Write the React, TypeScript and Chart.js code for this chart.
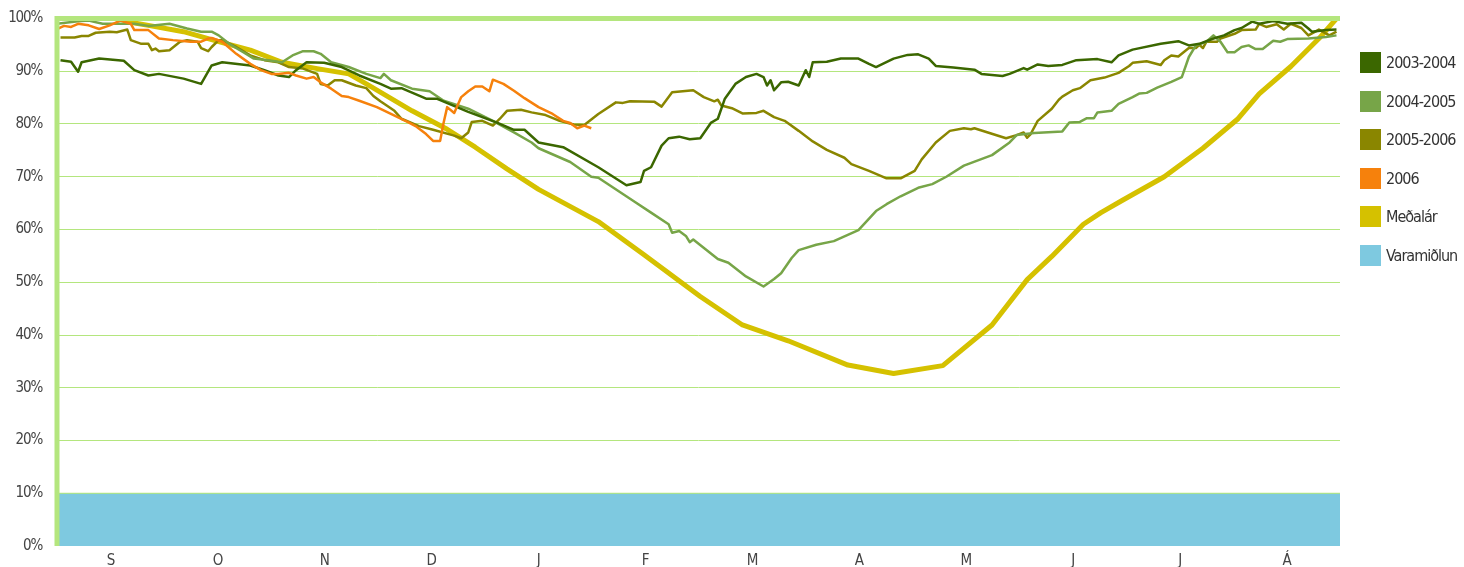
import React, { useEffect, useRef } from "react";
import { Chart, registerables } from "chart.js";

Chart.register(...registerables);

// x = day of the water year (starting 1 September), y = reservoir fill %
const MONTHS = ["S", "O", "N", "D", "J", "F", "M", "A", "M", "J", "J", "Á"];
const YEAR_DAYS = 365;
const Y_TICKS_STEP = 10;

const SERIES_NAMES = ["2003-2004", "2004-2005", "2005-2006", "2006", "Meðalár", "Varamiðlun"];
const SERIES_COLORS = ["#3B6700", "#77A548", "#8A8600", "#F6810C", "#D5C100", "#7EC9E0"];

const S2003: [number, number][] = [
  [1, 92.1], [4, 91.8], [6, 89.9], [7, 91.7], [12, 92.4], [19, 92.0], [22, 90.2], [26, 89.2], [29, 89.5],
  [36, 88.6], [41, 87.6], [44, 91.1], [47, 91.7], [55, 91.1], [59, 90.2], [63, 89.2], [66, 88.9], [68, 90.2],
  [71, 91.7], [76, 91.6], [81, 90.8], [86, 89.2], [92, 87.6], [95, 86.7], [98, 86.8], [105, 84.8], [108, 84.8],
  [117, 82.3], [125, 80.3], [130, 78.9], [133, 78.9], [137, 76.5], [144, 75.6], [154, 71.8], [162, 68.4],
  [166, 69.0], [167, 71.1], [169, 71.8], [172, 75.9], [174, 77.3], [177, 77.6], [180, 77.1], [183, 77.3],
  [186, 80.2], [188, 81.0], [190, 84.8], [193, 87.6], [196, 88.9], [199, 89.5], [201, 88.9], [202, 87.3],
  [203, 88.3], [204, 86.4], [206, 87.9], [208, 88.0], [211, 87.3], [213, 90.2], [214, 88.9], [215, 91.7],
  [219, 91.8], [223, 92.4], [228, 92.4], [231, 91.4], [233, 90.8], [238, 92.4], [242, 93.1], [245, 93.2],
  [248, 92.4], [250, 91.0], [255, 90.7], [261, 90.3], [263, 89.5], [269, 89.1], [271, 89.5], [275, 90.6],
  [276, 90.3], [279, 91.3], [282, 91.0], [286, 91.2], [290, 92.1], [296, 92.3], [300, 91.7], [302, 93.0],
  [306, 94.1], [314, 95.2], [319, 95.7], [322, 94.9], [325, 95.2], [329, 96.2], [332, 96.8], [335, 97.8],
  [337, 98.2], [340, 99.4], [342, 99.0], [346, 99.5], [350, 99.0], [354, 99.2], [356, 98.1], [357, 97.5],
  [361, 97.8], [364, 97.9],
];

const S2004: [number, number][] = [
  [0, 99.0], [6, 99.5], [9, 99.6], [13, 99.0], [22, 99.0], [26, 98.6], [32, 99.0], [37, 98.1], [41, 97.5],
  [44, 97.5], [46, 96.8], [49, 95.2], [53, 93.6], [56, 92.4], [60, 92.1], [64, 91.7], [67, 93.0], [70, 93.8],
  [73, 93.8], [75, 93.3], [78, 91.7], [83, 90.8], [88, 89.5], [92, 88.7], [93, 89.5], [95, 88.3], [101, 86.7],
  [106, 86.2], [110, 84.4], [117, 82.9], [124, 80.6], [130, 78.4], [135, 76.5], [137, 75.4], [146, 72.8],
  [152, 70.0], [154, 69.8], [164, 65.4], [169, 63.2], [174, 61.0], [175, 59.4], [177, 59.7], [179, 58.7],
  [180, 57.6], [181, 58.1], [188, 54.4], [191, 53.7], [196, 51.1], [201, 49.2], [204, 50.6], [206, 51.7],
  [209, 54.6], [211, 56.1], [216, 57.1], [221, 57.8], [228, 59.9], [233, 63.5], [236, 64.8], [240, 66.3],
  [245, 67.9], [249, 68.6], [253, 70.0], [258, 72.1], [266, 74.1], [271, 76.5], [273, 77.9], [278, 78.3],
  [286, 78.6], [288, 80.3], [291, 80.4], [293, 81.1], [295, 81.1], [296, 82.2], [300, 82.5], [302, 83.8],
  [306, 85.1], [308, 85.8], [310, 85.9], [313, 86.9], [317, 88.0], [320, 88.9], [322, 92.7], [324, 94.9],
  [327, 95.6], [329, 96.8], [331, 95.6], [333, 93.6], [335, 93.6], [337, 94.6], [339, 94.9], [341, 94.2],
  [343, 94.2], [346, 95.8], [348, 95.6], [350, 96.1], [356, 96.2], [361, 96.5], [364, 96.8],
];

const S2005: [number, number][] = [
  [1, 96.4], [5, 96.4], [7, 96.7], [9, 96.7], [11, 97.3], [15, 97.5], [17, 97.4], [20, 97.9], [21, 95.9],
  [24, 95.2], [26, 95.2], [27, 94.0], [28, 94.3], [29, 93.8], [32, 94.0], [35, 95.6], [37, 95.9], [40, 95.6],
  [41, 94.4], [43, 93.8], [44, 94.6], [46, 95.9], [47, 95.9], [51, 94.6], [55, 93.0], [59, 92.1], [63, 91.7],
  [66, 90.8], [70, 90.5], [74, 89.5], [75, 87.6], [77, 87.3], [79, 88.3], [81, 88.3], [85, 87.3], [88, 86.8],
  [90, 85.3], [92, 84.3], [96, 82.5], [98, 81.0], [103, 79.6], [107, 78.9], [113, 77.8], [115, 77.3],
  [117, 78.4], [118, 80.4], [121, 80.6], [124, 79.7], [126, 81.0], [128, 82.5], [132, 82.7], [135, 82.2],
  [139, 81.7], [143, 80.6], [147, 79.9], [150, 79.8], [154, 81.9], [159, 84.1], [161, 84.0], [163, 84.3],
  [170, 84.2], [172, 83.3], [175, 86.0], [181, 86.4], [184, 85.1], [187, 84.3], [188, 84.6], [189, 83.5],
  [192, 83.0], [195, 82.0], [199, 82.1], [201, 82.5], [204, 81.3], [207, 80.6], [211, 78.7], [215, 76.7],
  [219, 75.1], [224, 73.6], [226, 72.4], [231, 71.1], [236, 69.7], [240, 69.7], [244, 71.1], [246, 73.3],
  [250, 76.5], [254, 78.7], [258, 79.2], [260, 79.0], [261, 79.2], [270, 77.3], [273, 77.9], [275, 78.4],
  [276, 77.4], [277, 78.1], [279, 80.6], [283, 82.9], [285, 84.6], [286, 85.2], [289, 86.4], [291, 86.8],
  [294, 88.3], [298, 88.8], [302, 89.7], [305, 91.0], [306, 91.6], [310, 91.9], [314, 91.2], [315, 92.1],
  [317, 93.0], [319, 92.8], [322, 94.4], [324, 94.4], [325, 95.0], [326, 94.4], [327, 95.6], [330, 95.6],
  [331, 96.2], [335, 97.1], [337, 97.8], [341, 97.9], [342, 99.0], [343, 98.7], [344, 98.4], [347, 98.9],
  [349, 97.9], [351, 99.0], [354, 98.2], [356, 96.8], [359, 97.9], [362, 96.8], [364, 97.5],
];

const S2006: [number, number][] = [
  [0, 98.0], [2, 98.6], [4, 98.4], [6, 99.0], [9, 98.7], [12, 98.0], [15, 98.7], [18, 99.6], [21, 99.0],
  [22, 97.8], [26, 97.8], [29, 96.2], [33, 95.9], [38, 95.6], [41, 95.6], [43, 96.2], [44, 96.3], [47, 95.6],
  [51, 93.3], [55, 91.4], [58, 90.2], [61, 89.5], [63, 89.5], [66, 89.7], [68, 89.2], [71, 88.6], [73, 88.9],
  [75, 87.9], [78, 86.7], [81, 85.3], [83, 85.1], [86, 84.4], [91, 83.2], [95, 81.9], [100, 80.3], [102, 79.6],
  [105, 78.1], [107, 76.8], [109, 76.8], [110, 80.3], [111, 83.2], [113, 82.1], [115, 85.1], [117, 86.2],
  [119, 87.1], [121, 87.1], [123, 86.2], [124, 88.4], [127, 87.6], [130, 86.3], [133, 84.9], [137, 83.2],
  [141, 81.9], [144, 80.6], [146, 80.2], [148, 79.2], [150, 79.7], [152, 79.2],
];

const MEDALAR: [number, number][] = [
  [0, 100], [18, 100], [20, 99.4], [26, 98.7], [36, 97.5], [46, 95.6], [55, 94.0], [64, 91.7], [74, 90.5],
  [83, 89.5], [88, 87.6], [101, 82.5], [111, 79.0], [119, 75.6], [128, 71.5], [137, 67.6], [154, 61.5],
  [167, 55.2], [183, 47.3], [195, 41.9], [208, 38.9], [225, 34.3], [238, 32.7], [252, 34.2], [266, 41.9],
  [276, 50.5], [283, 54.9], [292, 61.0], [297, 63.2], [303, 65.5], [315, 70.0], [326, 75.4], [336, 81.0],
  [342, 85.7], [351, 90.9], [359, 96.2], [364, 100],
];

const VARAMIDLUN: [number, number][] = [[0, 10], [YEAR_DAYS, 10]];

const GRID = "#B4E67E";
const FONT = "'DejaVu Sans Condensed', 'DejaVu Sans', sans-serif";

const toPts = (a: [number, number][]) => a.map(([x, y]) => ({ x, y }));

const narrowTextPlugin = {
  id: "narrowText",
  beforeDraw(chart: any) {
    chart.ctx.letterSpacing = "-1.2px";
  },
};

const borderPlugin = {
  id: "thickBorders",
  afterDatasetsDraw(chart: any) {
    const { ctx, chartArea, scales } = chart;
    const yTop = scales.y.getPixelForValue(100);
    ctx.save();
    ctx.strokeStyle = GRID;
    ctx.lineWidth = 5;
    ctx.beginPath();
    ctx.moveTo(chartArea.left - 2.5, yTop);
    ctx.lineTo(chartArea.right, yTop);
    ctx.moveTo(chartArea.left, yTop);
    ctx.lineTo(chartArea.left, chartArea.bottom);
    ctx.stroke();
    ctx.restore();
  },
};

export default function App() {
  const ref = useRef<HTMLCanvasElement | null>(null);
  useEffect(() => {
    if (!ref.current) return;
    const series = [S2003, S2004, S2005, S2006, MEDALAR, VARAMIDLUN];
    const order = [2, 3, 4, 1, 5, 6];
    const datasets = series.map((s, i) => {
      const isMean = i === 4;
      const isReserve = i === 5;
      return {
        label: SERIES_NAMES[i],
        data: toPts(s),
        borderColor: isReserve ? GRID : SERIES_COLORS[i],
        backgroundColor: SERIES_COLORS[i],
        borderWidth: isMean ? 5 : isReserve ? 1 : 2.5,
        pointRadius: 0,
        tension: 0,
        fill: isReserve ? "origin" : false,
        order: order[i],
        borderJoinStyle: "round" as const,
      };
    });
    const monthLen = YEAR_DAYS / MONTHS.length;
    const chart = new Chart(ref.current, {
      type: "line",
      data: { datasets },
      plugins: [narrowTextPlugin, borderPlugin],
      options: {
        animation: false,
        responsive: true,
        maintainAspectRatio: false,
        layout: { padding: { top: 18.5, right: 124, left: 0, bottom: 0 } },
        plugins: { legend: { display: false }, tooltip: { enabled: false } },
        scales: {
          x: {
            type: "linear",
            min: 0,
            max: YEAR_DAYS,
            grid: { display: false, drawTicks: false },
            border: { display: false },
            afterBuildTicks: (scale: any) => {
              scale.ticks = MONTHS.map((_, i) => ({ value: (i + 0.5) * monthLen }));
            },
            afterFit: (scale: any) => {
              scale.height = 21;
              scale.paddingLeft = 0;
              scale.paddingRight = 0;
            },
            ticks: {
              autoSkip: false,
              maxRotation: 0,
              padding: 6,
              color: "#444",
              font: { family: FONT, size: 15 },
              callback: (_v: any, i: number) => MONTHS[i],
            },
          },
          y: {
            min: 0,
            max: 100,
            grid: {
              drawTicks: false,
              color: (c: any) => (c.tick && (c.tick.value === 0 || c.tick.value === 100) ? "rgba(0,0,0,0)" : GRID),
              lineWidth: 1,
            },
            border: { display: false },
            afterFit: (scale: any) => {
              scale.width = 57;
              scale.paddingTop = 0;
              scale.paddingBottom = 0;
            },
            ticks: {
              stepSize: Y_TICKS_STEP,
              padding: 15,
              color: "#444",
              font: { family: FONT, size: 15 },
              callback: (v: any) => v + "%",
            },
          },
        },
      },
    });
    return () => chart.destroy();
  }, []);

  return (
    <div style={{ position: "fixed", left: 0, top: 0, width: 1464, height: 567, background: "#fff" }}>
      <canvas ref={ref} />
      <div
        style={{
          position: "absolute",
          left: 1360,
          top: 52,
          fontFamily: FONT,
          fontSize: 16,
          letterSpacing: "-1px",
          color: "#333",
        }}
      >
        {SERIES_NAMES.map((n, i) => (
          <div key={n} style={{ display: "flex", alignItems: "center", height: 21, marginBottom: 17.5 }}>
            <span style={{ display: "inline-block", width: 21, height: 21, background: SERIES_COLORS[i], marginRight: 5 }} />
            <span style={{ lineHeight: "21px", whiteSpace: "nowrap" }}>{n}</span>
          </div>
        ))}
      </div>
    </div>
  );
}
